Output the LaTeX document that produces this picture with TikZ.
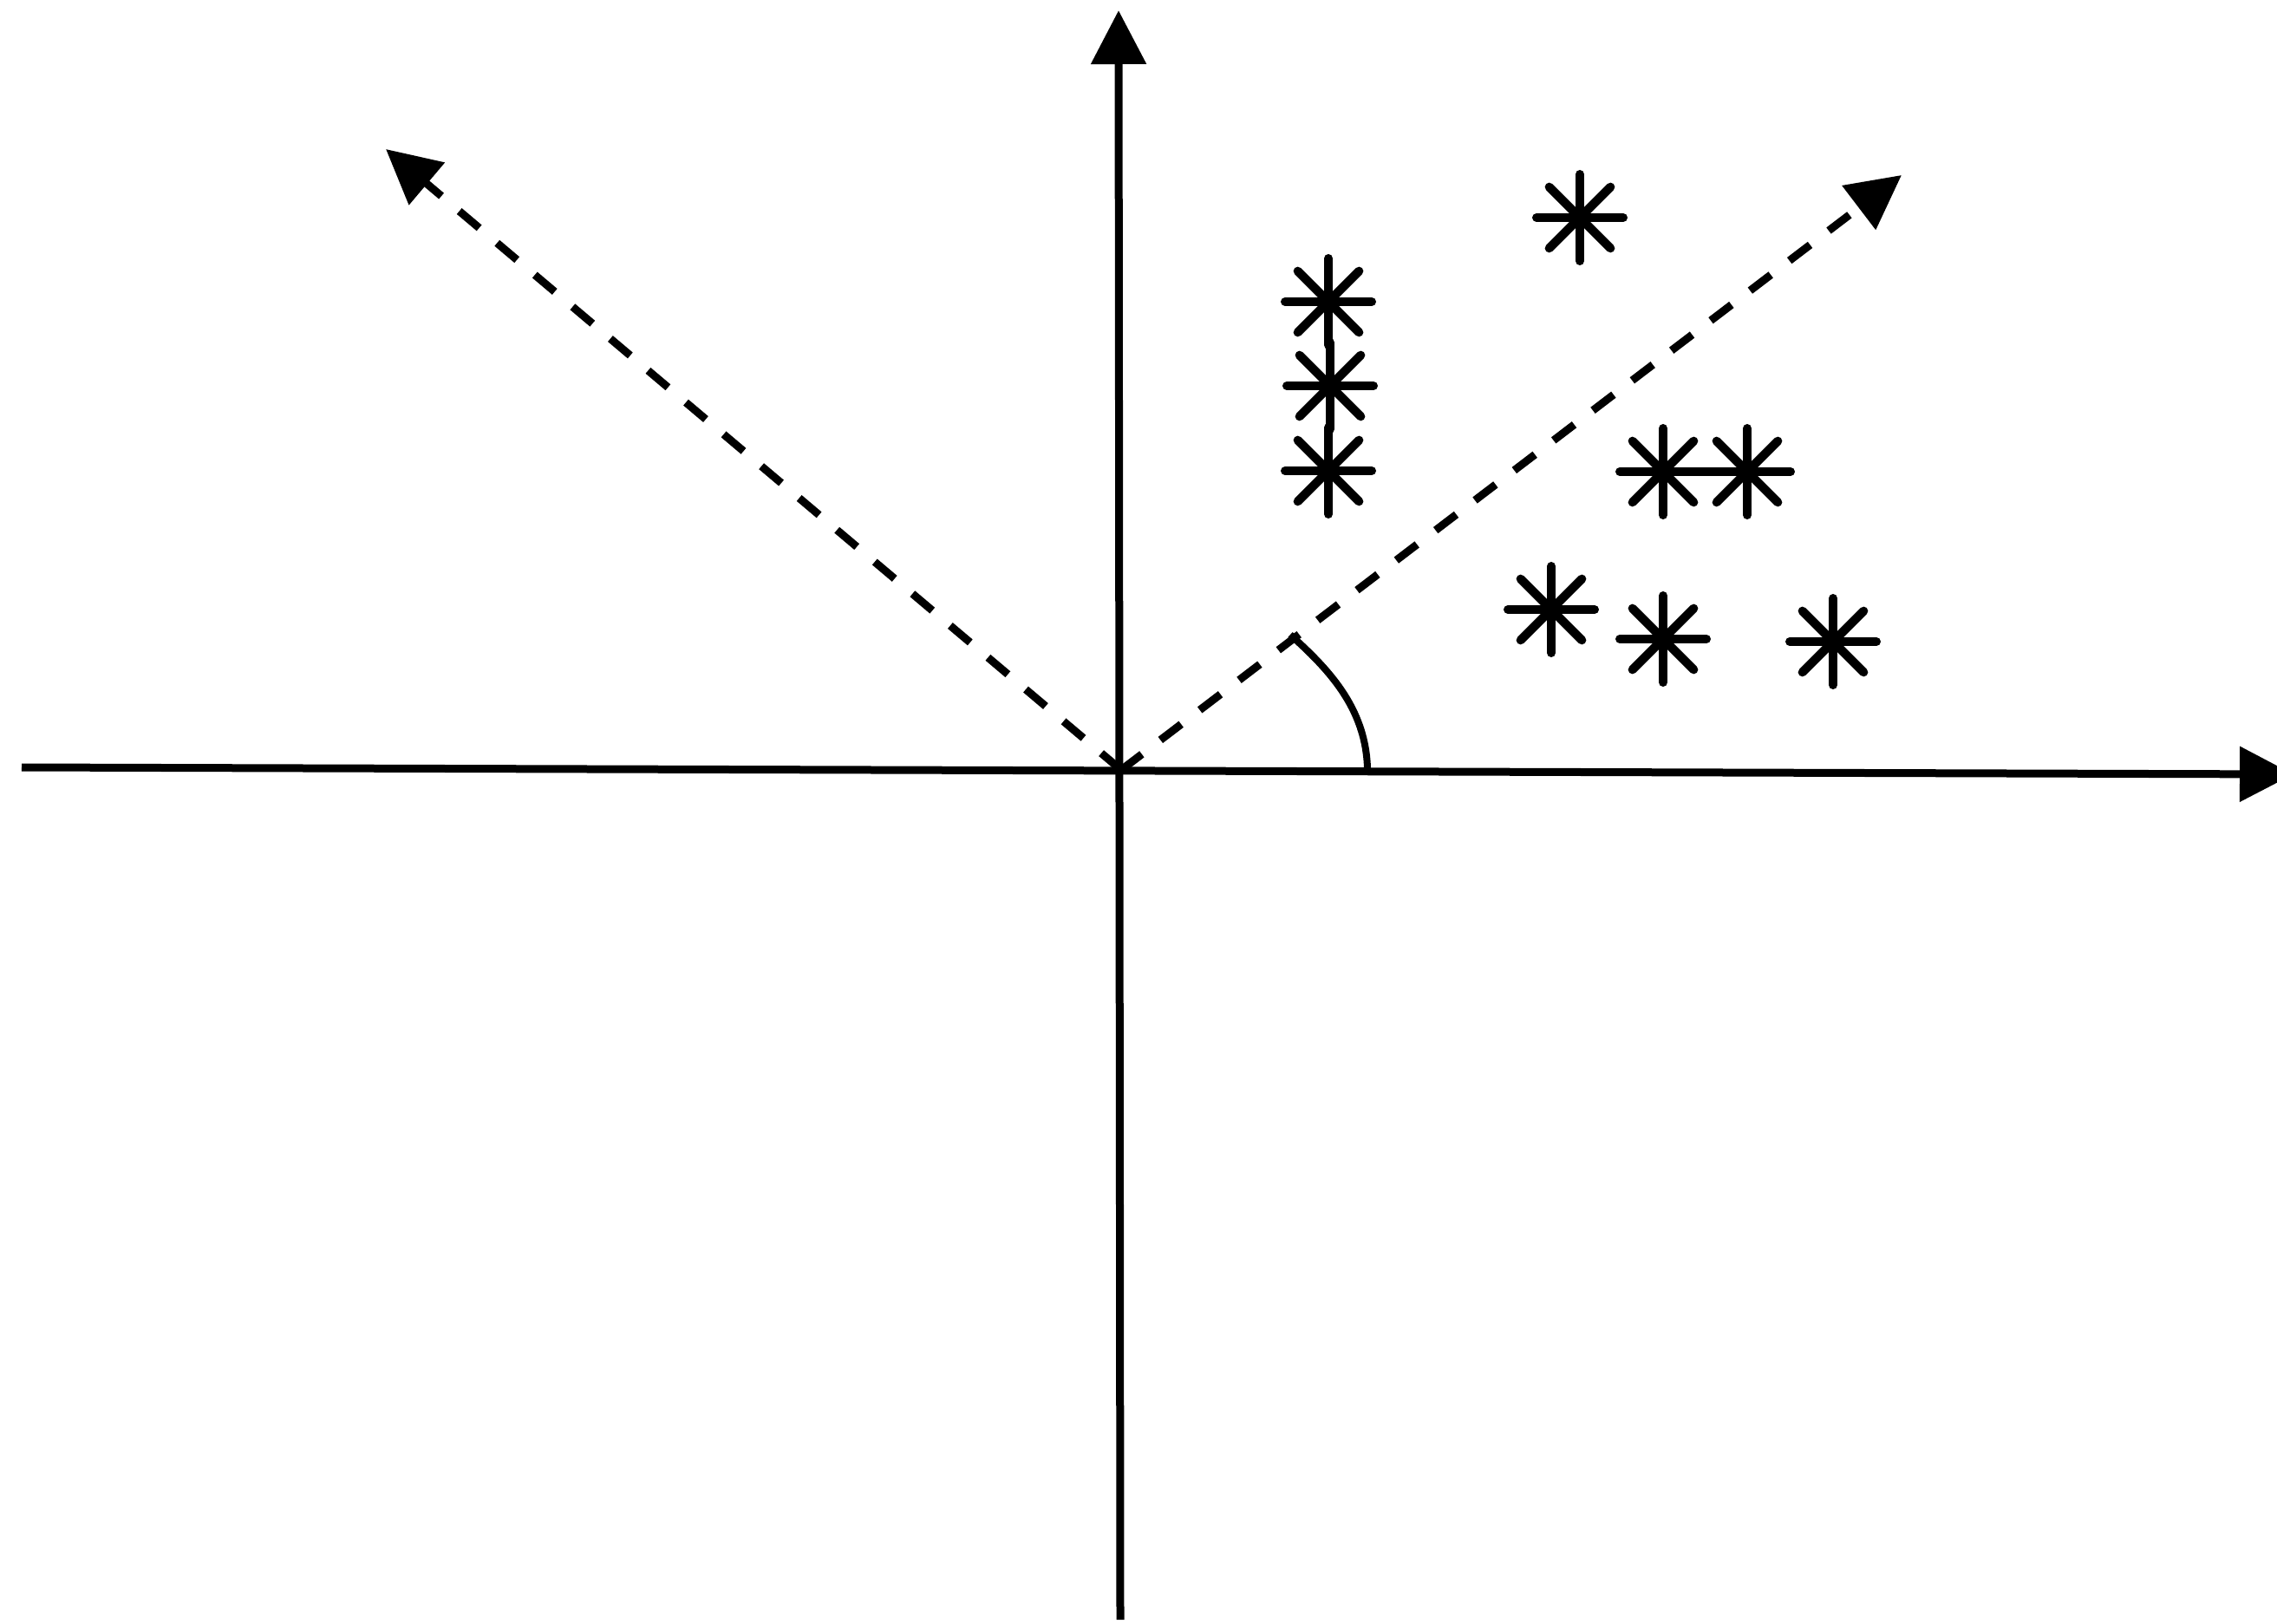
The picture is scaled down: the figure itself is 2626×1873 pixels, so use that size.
\documentclass[tikz,border=0pt]{standalone}
\usepackage{tikz}
\usetikzlibrary{arrows.meta}
\newcommand\markR{50}
\newcommand\lineW{9pt}
\newcommand\tipL{62pt}
\newcommand{\asteriskMark}[2]{
    \foreach \ang in {0,45,90,135}
        \draw[mark line] (#1,#2) ++(\ang:\markR) -- ++({\ang+180}:{2*\markR});
}
\tikzset{
    axis line/.style={line width=\lineW, -{Triangle[length=\tipL, width=62pt]}},
    ray line/.style={axis line, dash pattern=on 30pt off 27pt},
    mark line/.style={line width=10pt, line cap=round},
}

\begin{document}
\begin{tikzpicture}[x=1pt, y=-1pt]
        \useasboundingbox (0,0) rectangle (2626,1873);
        \clip (0,0) rectangle (2626,1873);

        \coordinate (origin) at (1293,888);
        \coordinate (xStart) at (25,885);
        \coordinate (xEnd) at (2645,893);
        \coordinate (yStart) at (1292,1868);
        \coordinate (yEnd) at (1290,12);
        \coordinate (leftRay) at (445,172);
        \coordinate (rightRay) at (2193,202);
        \coordinate (arcStart) at (1488,732);
        \coordinate (arcEnd) at (1577,886);

        % axes
        \draw[axis line] (xStart) -- (xEnd);
        \draw[axis line] (yStart) -- (yEnd);

        % rotated directions
        \draw[ray line] (origin) -- (leftRay);
        \draw[ray line] (origin) -- (rightRay);

        % angle
        \draw[line width=8pt] (arcStart) .. controls (1530,770) and (1575,815) .. (arcEnd);

        % samples
        \asteriskMark{1532}{348}
        \asteriskMark{1534}{445}
        \asteriskMark{1532}{543}
        \asteriskMark{1822}{251}
        \asteriskMark{1918}{544}
        \asteriskMark{2015}{544}
        \asteriskMark{1789}{703}
        \asteriskMark{1918}{737}
        \asteriskMark{2114}{740}
    \end{tikzpicture}
\end{document}
